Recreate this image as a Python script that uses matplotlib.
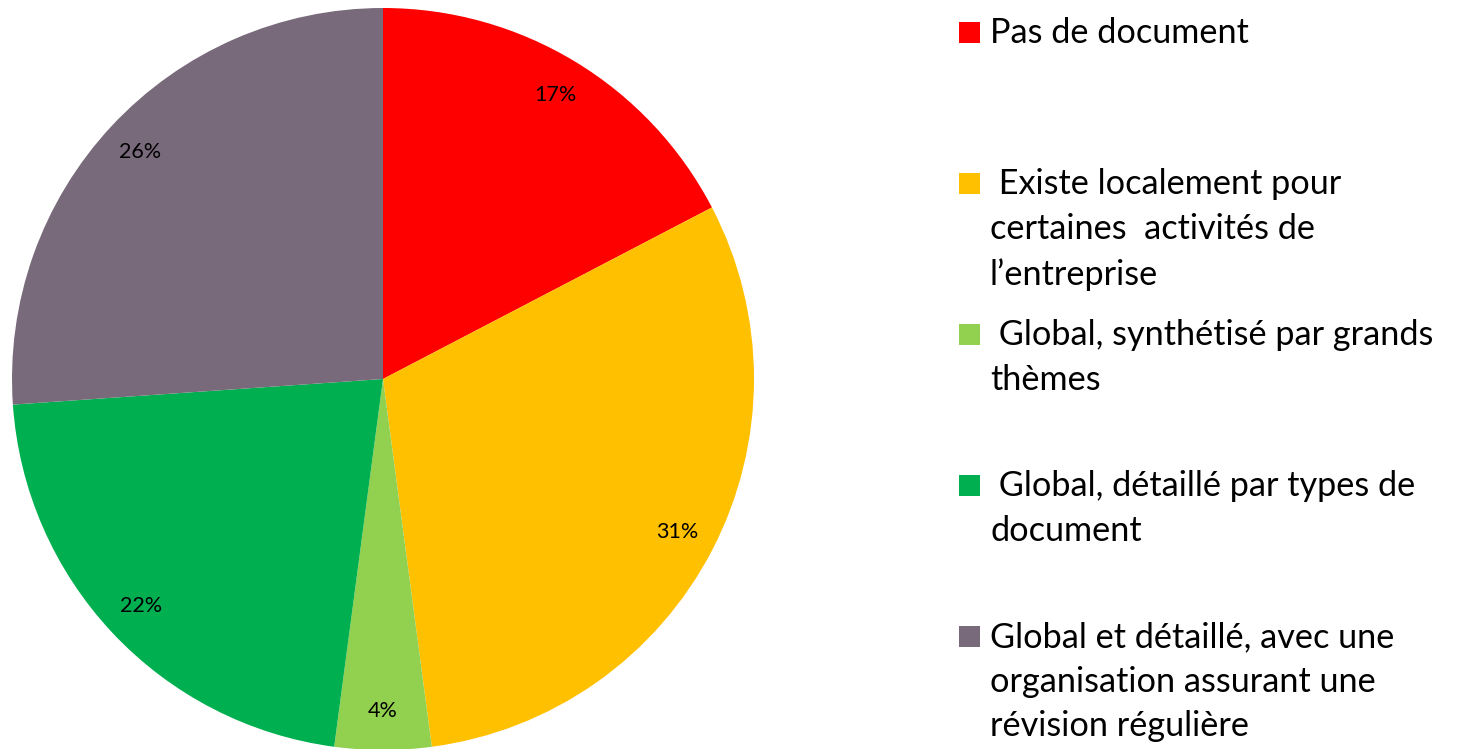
import matplotlib
matplotlib.use("Agg")
import matplotlib.pyplot as plt
from matplotlib.patches import Rectangle

categories = [
    "Pas de document",
    " Existe localement pour\ncertaines  activités de\nl\u2019entreprise",
    " Global, synthétisé par grands\nthèmes",
    " Global, détaillé par types de\ndocument",
    "Global et détaillé, avec une\norganisation assurant une\nrévision régulière",
]
values = [17.35, 30.55, 4.2, 21.8, 26.1]
colors = ["#FF0000", "#FFC000", "#92D050", "#00B050", "#786A7A"]

W, H, DPI = 1459, 749, 100
fig = plt.figure(figsize=(W / DPI, H / DPI), dpi=DPI)
fig.patch.set_facecolor("white")

cx, cy, r = 383, 379, 371
ax = fig.add_axes([(cx - r) / W, (H - cy - r) / H, 2 * r / W, 2 * r / H])
ax.pie(values, colors=colors, startangle=90, counterclock=False,
       autopct=lambda p: f"{int(p + 0.5)}%", pctdistance=0.895,
       textprops=dict(fontsize=15.5, family="Lato", color="black"),
       wedgeprops=dict(linewidth=0))
ax.set_xlim(-1, 1)
ax.set_ylim(-1, 1)
ax.set_aspect("equal")
ax.axis("off")

# legend
sq = 21
x_sq, x_txt = 959, 990
y0, step = 22, 151
for i, (lab, col) in enumerate(zip(categories, colors)):
    ytop = y0 + i * step
    fig.patches.append(Rectangle((x_sq / W, 1 - (ytop + sq) / H), sq / W, sq / H,
                                 transform=fig.transFigure, facecolor=col,
                                 edgecolor="none"))
    fig.text(x_txt / W, 1 - (ytop - 5) / H, lab, ha="left", va="top",
             fontsize=24.7, family="Lato", linespacing=1.49, color="black")

fig.savefig("out.png", dpi=DPI, facecolor="white")
